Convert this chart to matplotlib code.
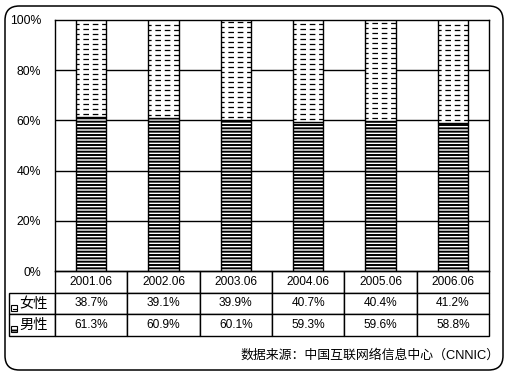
import numpy as np
import matplotlib
matplotlib.use("Agg")
import matplotlib.pyplot as plt
from matplotlib.patches import FancyBboxPatch, Rectangle
from matplotlib.collections import LineCollection

plt.rcParams['font.family'] = ['Liberation Sans', 'Noto Sans CJK SC', 'DejaVu Sans']
plt.rcParams['hatch.linewidth'] = 1.4

categories = ['2001.06', '2002.06', '2003.06', '2004.06', '2005.06', '2006.06']
female = [38.7, 39.1, 39.9, 40.7, 40.4, 41.2]
male = [61.3, 60.9, 60.1, 59.3, 59.6, 58.8]
female_labels = ['38.7%', '39.1%', '39.9%', '40.7%', '40.4%', '41.2%']
male_labels = ['61.3%', '60.9%', '60.1%', '59.3%', '59.6%', '58.8%']
row_names = ['女性', '男性']
yticks = [0, 20, 40, 60, 80, 100]
ytick_labels = ['0%', '20%', '40%', '60%', '80%', '100%']
source = '数据来源：中国互联网络信息中心（CNNIC）'

W, H = 511, 375
fig = plt.figure(figsize=(W / 100, H / 100), dpi=100)

# rounded outer frame
frame = FancyBboxPatch((5 / W, 5 / H), 498 / W, 364 / H,
                       boxstyle="round,pad=0,rounding_size=0.028",
                       mutation_aspect=W / H,
                       transform=fig.transFigure, fill=False,
                       edgecolor='black', linewidth=1.1)
fig.patches.append(frame)

ax_l, ax_r, ax_t, ax_b = 55, 489, 20, 271
ax = fig.add_axes([ax_l / W, 1 - ax_b / H, (ax_r - ax_l) / W, (ax_b - ax_t) / H])

x = np.arange(len(categories))
bw = 0.415
ax.bar(x, male, bw, color='white', edgecolor='black', hatch='-----', linewidth=1.0, zorder=3)
fbars = ax.bar(x, female, bw, bottom=male, color='white', edgecolor='black',
               linewidth=1.0, zorder=3)

# dashed fill pattern for the female segments, clipped to each bar
for i, rect in enumerate(fbars):
    ys = np.arange(male[i] + 1.3, male[i] + female[i], 2.0)
    segs = [[(x[i] - bw / 2, y), (x[i] + bw / 2, y)] for y in ys]
    lc = LineCollection(segs, colors='black', linewidths=0.9,
                        linestyles=[(2, (4.5, 3))], zorder=4)
    ax.add_collection(lc)
    lc.set_clip_path(rect)

ax.set_xlim(-0.5, len(categories) - 0.5)
ax.set_ylim(0, 100)
ax.set_yticks(yticks)
ax.set_yticklabels(ytick_labels, fontsize=8.8)
ax.set_xticks([])
ax.tick_params(axis='y', length=0, pad=10)
for y in yticks[1:-1]:
    ax.axhline(y, color='black', linewidth=1.0, zorder=1)
for s in ax.spines.values():
    s.set_linewidth(1.0)

# data table
cell_text = [[''] + female_labels, [''] + male_labels]
col_labels = [''] + categories
tw = ax_r - 9
colw = [46 / tw] + [(ax_r - ax_l) / 6 / tw] * 6
tb_h = (336 - ax_b) / (ax_b - ax_t)
tbl = ax.table(cellText=cell_text, colLabels=col_labels, colWidths=colw,
               cellLoc='center',
               bbox=[(9 - ax_l) / (ax_r - ax_l), -tb_h, tw / (ax_r - ax_l), tb_h])
tbl.auto_set_font_size(False)
tbl.set_fontsize(8.6)
for (r, c), cell in tbl.get_celld().items():
    cell.set_linewidth(1.0)
    cell.set_edgecolor('black')
tbl[(0, 0)].visible_edges = ''

# row labels with legend keys
row_y = [304, 325]
for i, name in enumerate(row_names):
    fig.text(19 / W, 1 - row_y[i] / H, name, fontsize=10.3, va='center', ha='left')
    key = Rectangle((11 / W, 1 - (row_y[i] + 6.5) / H), 6 / W, 6 / H,
                    transform=fig.transFigure, facecolor='white', edgecolor='black',
                    linewidth=0.8, hatch='---' if i == 1 else None)
    fig.patches.append(key)
    if i == 0:
        fig.lines.append(plt.Line2D([12.5 / W, 15.5 / W], [1 - (row_y[i] + 4.5) / H] * 2,
                                    transform=fig.transFigure, color='black', linewidth=0.8))

fig.text(500 / W, 1 - 355 / H, source, fontsize=9.3, ha='right', va='center')

fig.savefig('out.png', dpi=100)
